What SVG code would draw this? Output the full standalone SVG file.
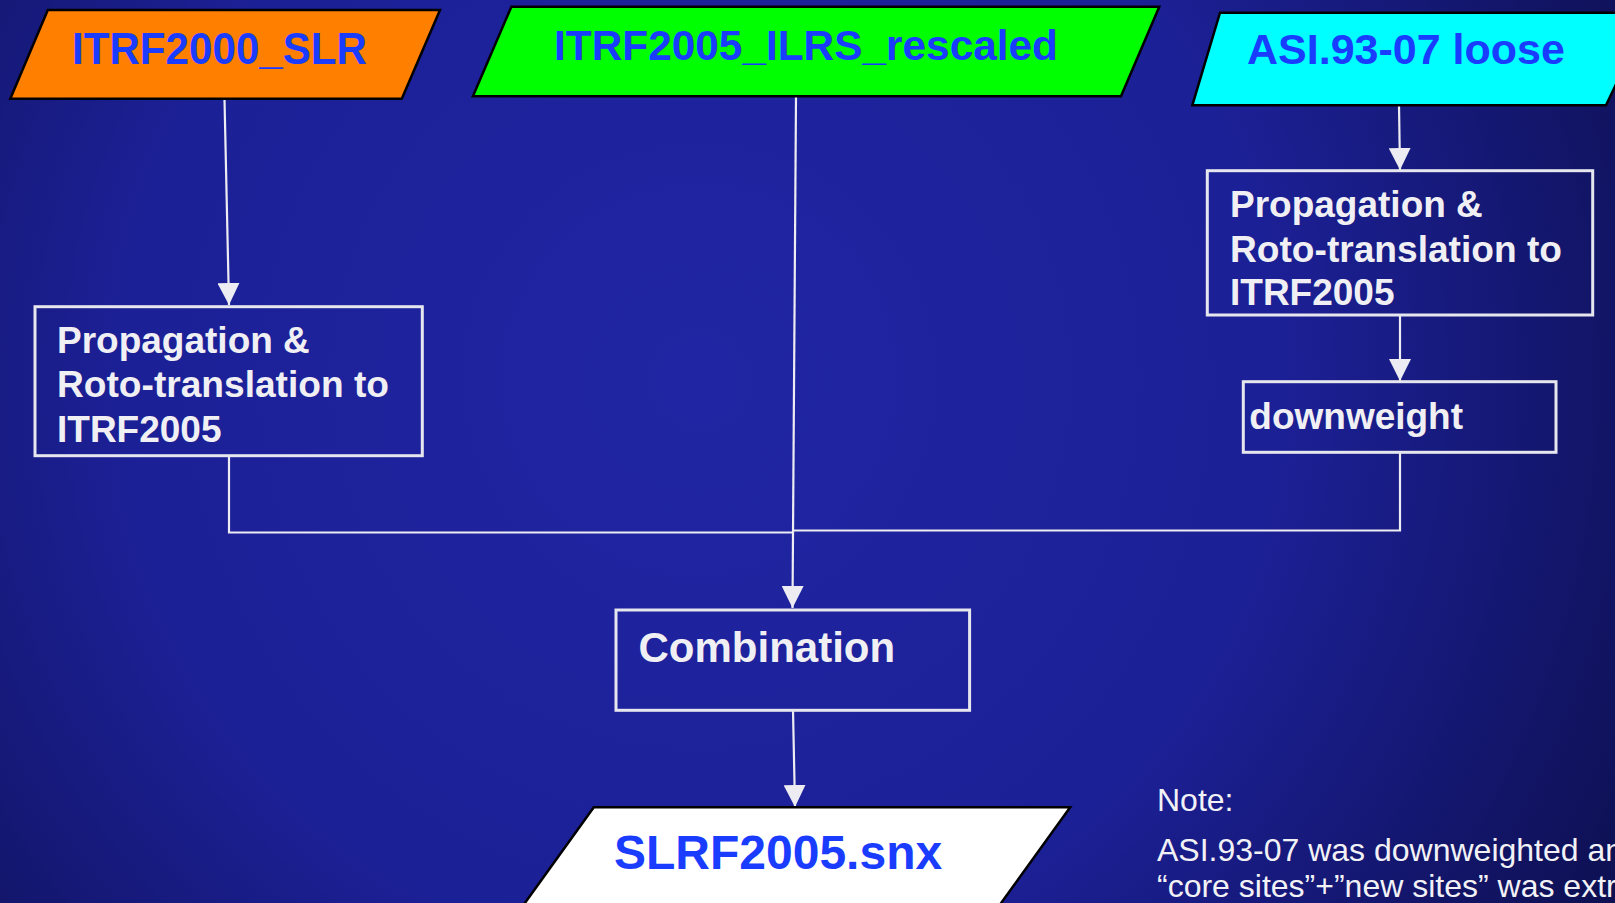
<svg xmlns="http://www.w3.org/2000/svg" width="1615" height="903" viewBox="0 0 1615 903">
<defs>
<radialGradient id="bg" cx="700" cy="380" r="1050" gradientUnits="userSpaceOnUse">
<stop offset="0" stop-color="#2025a3"/>
<stop offset="0.55" stop-color="#1c2096"/>
<stop offset="1" stop-color="#0e1052"/>
</radialGradient>
<marker id="ah" viewBox="0 0 22 22" refX="22" refY="11" markerWidth="22" markerHeight="22" markerUnits="userSpaceOnUse" orient="auto">
<path d="M0,0 L22,11 L0,22 z" fill="#ececf2"/>
</marker>
<style>
.para{stroke:#000;stroke-width:2.5}
.box{fill:none;stroke:#e6e6ee;stroke-width:3}
.t{font-family:"Liberation Sans",Arial,sans-serif;font-weight:bold}
.blue{fill:#1a3cff}
.wt{fill:#f0f0f4;font-size:37px}
.con{fill:none;stroke:#ececf2;stroke-width:2.2}
.note{font-family:"Liberation Sans",Arial,sans-serif;fill:#f2f2f6;font-size:32px}
</style>
</defs>
<rect width="1615" height="903" fill="url(#bg)"/>

<g id="connectors">
<path class="con" d="M224.5,99 L229,305" marker-end="url(#ah)"/>
<path class="con" d="M796,97 L792.5,608" marker-end="url(#ah)"/>
<path class="con" d="M229,456 L229,532.5 L792,532.5"/>
<path class="con" d="M1400,452 L1400,530.5 L792,530.5"/>
<path class="con" d="M1399,105 L1400,170" marker-end="url(#ah)"/>
<path class="con" d="M1400,315 L1400,381" marker-end="url(#ah)"/>
<path class="con" d="M793,710 L795,807" marker-end="url(#ah)"/>
</g>

<g id="itrf2000">
<polygon class="para" points="47.8,10 440,10 401.8,98.7 10.3,98.7" fill="#ff7f00"/>
<text class="t blue" x="72" y="63.5" font-size="44" textLength="295" lengthAdjust="spacingAndGlyphs">ITRF2000_SLR</text>
</g>

<g id="itrf2005">
<polygon class="para" points="511.4,6.7 1159.3,6.7 1121,96.3 472.9,96.3" fill="#00ff00"/>
<text class="t blue" x="554" y="59.5" font-size="43" textLength="504" lengthAdjust="spacingAndGlyphs">ITRF2005_ILRS_rescaled</text>
</g>

<g id="asi">
<polygon class="para" points="1220,12.7 1650,12.7 1606,105.3 1192.3,105.3" fill="#00ffff"/>
<text class="t blue" x="1247" y="64" font-size="43">ASI.93-07 loose</text>
</g>

<g id="prop-left">
<rect class="box" x="35" y="306.7" width="387.3" height="149"/>
<text class="t wt" x="57" y="352.7">Propagation &amp;</text>
<text class="t wt" x="57" y="397.3" textLength="332" lengthAdjust="spacingAndGlyphs">Roto-translation to</text>
<text class="t wt" x="57" y="442.3">ITRF2005</text>
</g>

<g id="prop-right">
<rect class="box" x="1207.3" y="170.7" width="385.4" height="144.3"/>
<text class="t wt" x="1230" y="216.7">Propagation &amp;</text>
<text class="t wt" x="1230" y="262.3" textLength="332" lengthAdjust="spacingAndGlyphs">Roto-translation to</text>
<text class="t wt" x="1230" y="305">ITRF2005</text>
</g>

<g id="downweight">
<rect class="box" x="1243.3" y="381.7" width="312.7" height="70.6"/>
<text class="t wt" x="1249.3" y="429">downweight</text>
</g>

<g id="combination">
<rect class="box" x="616" y="610" width="353.6" height="100.3"/>
<text class="t" x="638.5" y="662.3" font-size="42" fill="#f0f0f4">Combination</text>
</g>

<g id="slrf">
<polygon class="para" points="593.8,807.3 1070.2,807.3 960,960 483.9,960" fill="#ffffff"/>
<text class="t blue" x="614" y="869.3" font-size="48">SLRF2005.snx</text>
</g>

<g id="note">
<text class="note" x="1157" y="810.7">Note:</text>
<text class="note" x="1157" y="860.7">ASI.93-07 was downweighted an</text>
<text class="note" x="1157" y="897">“core sites”+”new sites” was extr</text>
</g>
</svg>
